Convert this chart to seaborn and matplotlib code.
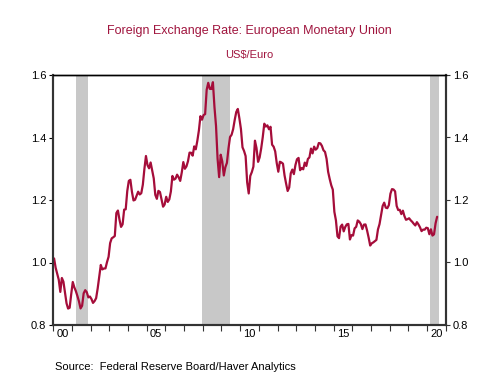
import matplotlib
matplotlib.use("Agg")
import matplotlib.pyplot as plt
import seaborn as sns
import numpy as np
import pandas as pd

# Monthly US$/Euro, Jan 2000 - Jul 2020
rates = [
    # 2000
    1.0130, 0.9834, 0.9643, 0.9449, 0.9059, 0.9505, 0.9386, 0.9045, 0.8695, 0.8525, 0.8552, 0.8983,
    # 2001
    0.9376, 0.9205, 0.9083, 0.8925, 0.8753, 0.8530, 0.8615, 0.9014, 0.9114, 0.9050, 0.8883, 0.8912,
    # 2002
    0.8832, 0.8707, 0.8766, 0.8858, 0.9170, 0.9554, 0.9922, 0.9778, 0.9808, 0.9811, 1.0014, 1.0183,
    # 2003
    1.0622, 1.0773, 1.0807, 1.0848, 1.1582, 1.1663, 1.1372, 1.1139, 1.1222, 1.1692, 1.1702, 1.2286,
    # 2004
    1.2613, 1.2646, 1.2262, 1.1985, 1.2007, 1.2138, 1.2266, 1.2176, 1.2218, 1.2490, 1.2991, 1.3408,
    # 2005
    1.3115, 1.3014, 1.3201, 1.2938, 1.2694, 1.2165, 1.2037, 1.2292, 1.2256, 1.2015, 1.1786, 1.1856,
    # 2006
    1.2103, 1.1938, 1.2020, 1.2271, 1.2770, 1.2650, 1.2684, 1.2811, 1.2727, 1.2611, 1.2881, 1.3213,
    # 2007
    1.2999, 1.3074, 1.3242, 1.3516, 1.3511, 1.3419, 1.3716, 1.3622, 1.3896, 1.4227, 1.4684, 1.4570,
    # 2008
    1.4718, 1.4748, 1.5527, 1.5750, 1.5557, 1.5553, 1.5770, 1.4975, 1.4370, 1.3322, 1.2732, 1.3449,
    # 2009
    1.3239, 1.2785, 1.3050, 1.3190, 1.3650, 1.4016, 1.4088, 1.4268, 1.4562, 1.4816, 1.4914, 1.4614,
    # 2010
    1.4272, 1.3686, 1.3569, 1.3406, 1.2565, 1.2209, 1.2770, 1.2894, 1.3067, 1.3898, 1.3661, 1.3220,
    # 2011
    1.3360, 1.3649, 1.4008, 1.4442, 1.4349, 1.4388, 1.4264, 1.4343, 1.3770, 1.3706, 1.3556, 1.3179,
    # 2012
    1.2905, 1.3224, 1.3201, 1.3162, 1.2789, 1.2526, 1.2288, 1.2400, 1.2856, 1.2974, 1.2828, 1.3119,
    # 2013
    1.3304, 1.3347, 1.2953, 1.3025, 1.2983, 1.3197, 1.3088, 1.3314, 1.3364, 1.3646, 1.3491, 1.3708,
    # 2014
    1.3610, 1.3658, 1.3823, 1.3813, 1.3732, 1.3592, 1.3539, 1.3316, 1.2901, 1.2673, 1.2472, 1.2331,
    # 2015
    1.1621, 1.1350, 1.0838, 1.0779, 1.1150, 1.1213, 1.0996, 1.1139, 1.1221, 1.1235, 1.0736, 1.0877,
    # 2016
    1.0860, 1.1093, 1.1140, 1.1346, 1.1307, 1.1229, 1.1069, 1.1212, 1.1218, 1.1026, 1.0799, 1.0543,
    # 2017
    1.0614, 1.0643, 1.0685, 1.0723, 1.1058, 1.1229, 1.1511, 1.1807, 1.1915, 1.1756, 1.1738, 1.1836,
    # 2018
    1.2200, 1.2348, 1.2336, 1.2276, 1.1812, 1.1678, 1.1686, 1.1549, 1.1659, 1.1484, 1.1367, 1.1387,
    # 2019
    1.1416, 1.1351, 1.1302, 1.1238, 1.1185, 1.1291, 1.1218, 1.1126, 1.1004, 1.1053, 1.1051, 1.1113,
    # 2020
    1.1100, 1.0905, 1.1063, 1.0862, 1.0902, 1.1255, 1.1463,
]
start_year = 2000
recessions = [(2001.22, 2001.87), (2007.98, 2009.46), (2020.18, 2020.66)]
x_labels = ["00", "05", "10", "15", "20"]
x_label_years = [2000, 2005, 2010, 2015, 2020]
y_ticks = [0.8, 1.0, 1.2, 1.4, 1.6]

dates = [start_year + (i + 0.5) / 12 for i in range(len(rates))]
df = pd.DataFrame({"date": dates, "rate": rates})

sns.set_theme(style="white")
plt.rcParams["font.family"] = ["Liberation Sans", "DejaVu Sans"]

W, H = 499, 374
fig = plt.figure(figsize=(W / 100, H / 100), dpi=100)
ax = fig.add_axes([53.3 / W, 1 - 325 / H, (445.7 - 53.3) / W, 250 / H])

for a, b in recessions:
    ax.axvspan(a, b, color="#c8c8c8", lw=0, zorder=0)

line_color = "#a50d3a"
sns.lineplot(data=df, x="date", y="rate", ax=ax, color=line_color, lw=1.6, zorder=3)

ax.set_xlim(2000, 2021)
ax.set_ylim(0.8, 1.6)
ax.set_xlabel("")
ax.set_ylabel("")

ax.set_xticks(list(range(2000, 2022)))
ax.set_xticklabels([])
ax.set_xticks([y + 0.5 for y in x_label_years], minor=True)
ax.set_xticklabels(x_labels, minor=True)
ax.tick_params(axis="x", which="major", direction="out", length=4, width=0.8, color="#333333", bottom=True)
ax.tick_params(axis="x", which="minor", length=0, labelsize=8, pad=3, colors="black")

ax.set_yticks(y_ticks)
ax.set_yticklabels([f"{v:.1f}" for v in y_ticks])
ax.tick_params(axis="y", direction="out", length=3, width=0.8, color="#333333", labelsize=8, pad=2, left=True, colors="black")
ax.tick_params(axis="y", colors="black")

ax2 = ax.twinx()
ax2.set_ylim(0.8, 1.6)
ax2.set_yticks(y_ticks)
ax2.set_yticklabels([f"{v:.1f}" for v in y_ticks])
ax2.tick_params(axis="y", direction="out", length=3, width=0.8, color="#333333", labelsize=8, pad=2, right=True, labelcolor="black")
ax2.grid(False)

for a in (ax, ax2):
    for side in ["left", "right", "bottom"]:
        a.spines[side].set_color("#333333")
        a.spines[side].set_linewidth(1.5)
    a.spines["top"].set_color("black")
    a.spines["top"].set_linewidth(1.0)

title_color = "#a0153e"
fig.text(249.5 / W, 1 - 31 / H, "Foreign Exchange Rate: European Monetary Union",
         ha="center", va="center", fontsize=9, color=title_color)
fig.text(249.5 / W, 1 - 55 / H, "US$/Euro", ha="center", va="center", fontsize=8, color=title_color)
fig.text(55 / W, 1 - 366.5 / H, "Source:  Federal Reserve Board/Haver Analytics",
         ha="left", va="center", fontsize=8, color="black")

fig.savefig("out.png", dpi=100)
